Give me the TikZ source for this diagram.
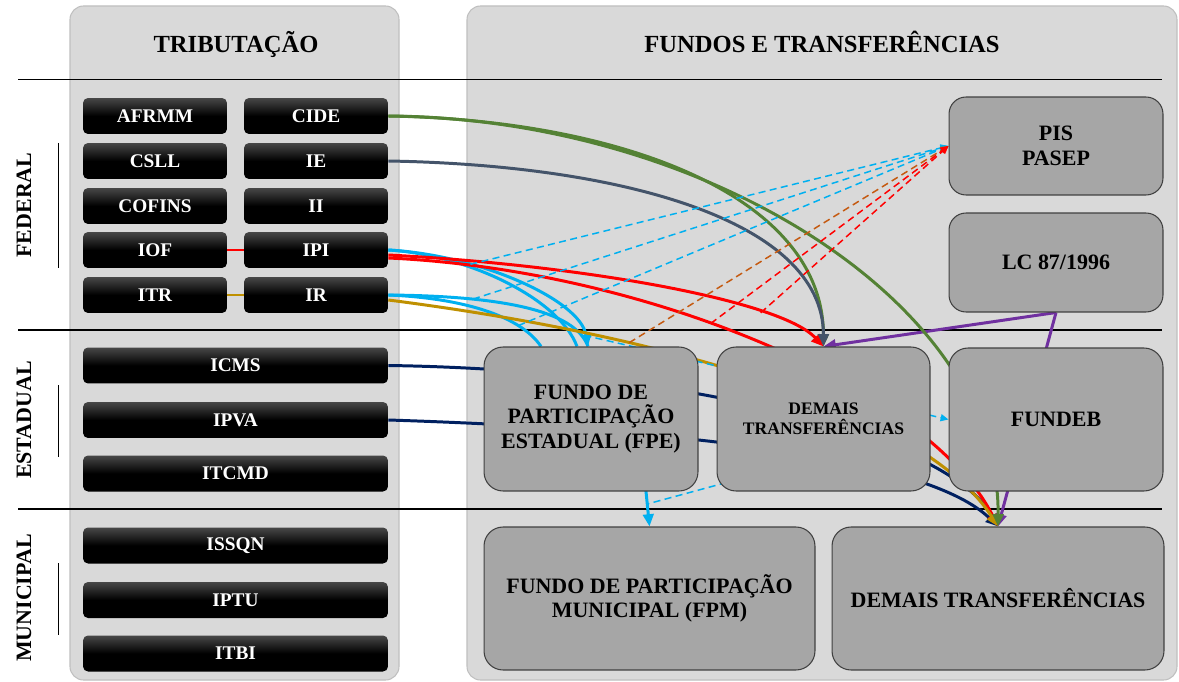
\documentclass[tikz,border=0pt]{standalone}
\usepackage{fontspec}
\setmainfont{Liberation Serif}
\usetikzlibrary{arrows.meta}

\definecolor{panelfill}{HTML}{D9D9D9}
\definecolor{paneledge}{HTML}{BFBFBF}
\definecolor{fundfill}{HTML}{A6A6A6}
\definecolor{fundedge}{HTML}{404040}
\definecolor{cideg}{HTML}{548235}
\definecolor{ieslate}{HTML}{44546A}
\definecolor{ipired}{HTML}{FF0000}
\definecolor{ipicyan}{HTML}{00B0F0}
\definecolor{irgold}{HTML}{BF9000}
\definecolor{icmsnavy}{HTML}{002060}
\definecolor{lcpurple}{HTML}{7030A0}
\definecolor{pisorange}{HTML}{C55A11}

\pgfdeclarelayer{back}
\pgfdeclarelayer{links}
\pgfsetlayers{back,links,main}

\begin{document}
\begin{tikzpicture}[x=0.02cm,y=-0.02cm,
  panel/.style={fill=panelfill,draw=paneledge,line width=0.6pt,rounded corners=0.27cm},
  band/.style={line width=1.1pt},
  tax/.style={rounded corners=0.1cm,top color=black!72,bottom color=black,middle color=black,
    text=white,font=\fontsize{11}{13}\selectfont\bfseries,minimum width=2.88cm,minimum height=0.72cm,inner sep=0pt},
  widetax/.style={tax,minimum width=6.1cm},
  fund/.style={fill=fundfill,draw=fundedge,line width=0.6pt,rounded corners=0.38cm,align=center,
    minimum width=4.28cm,minimum height=2.88cm,inner sep=0pt,font=\fontsize{12.5}{14}\selectfont\bfseries},
  level/.style={rotate=90,font=\fontsize{12.5}{14}\selectfont\bfseries},
  head/.style={font=\fontsize{14}{16}\selectfont\bfseries,anchor=base},
  flow/.style={line width=1.7pt},
  part/.style={line width=0.85pt,dash pattern=on 4pt off 2.5pt,-{Triangle[length=4.5pt,width=4pt]}},
  tip/.style={-{Triangle[length=7pt,width=6pt]}}
]
\useasboundingbox (0,0) rectangle (1179,682);

\begin{pgfonlayer}{back}
\draw[panel] (70,6) rectangle (399,680);
\draw[panel] (467,6) rectangle (1177,680);
\draw[band] (18,79.5) -- (1162,79.5);
\draw[band] (18,330) -- (1162,330);
\draw[band] (18,509) -- (1162,509);
\draw (58,143) -- (58,268);
\draw (58,385) -- (58,457);
\draw (58,563) -- (58,635);
\end{pgfonlayer}

\node[head] (trib) at (236,53) {TRIBUTAÇÃO};
\node[head] (fundos) at (822,53) {FUNDOS E TRANSFERÊNCIAS};
\node[level] (fed) at (24,205) {FEDERAL};
\node[level] (est) at (24,420) {ESTADUAL};
\node[level] (mun) at (24,598) {MUNICIPAL};

\node[tax] (afrmm) at (155,116) {AFRMM};
\node[tax] (cide) at (316,116) {CIDE};
\node[tax] (csll) at (155,161) {CSLL};
\node[tax] (ie) at (316,161) {IE};
\node[tax] (cofins) at (155,206) {COFINS};
\node[tax] (ii) at (316,206) {II};
\node[tax] (iof) at (155,250) {IOF};
\node[tax] (ipi) at (316,250) {IPI};
\node[tax] (itr) at (155,295) {ITR};
\node[tax] (ir) at (316,295) {IR};

\node[widetax] (icms) at (235.5,365.5) {ICMS};
\node[widetax] (ipva) at (235.5,420) {IPVA};
\node[widetax] (itcmd) at (235.5,473.5) {ITCMD};
\node[widetax] (issqn) at (235.5,545.5) {ISSQN};
\node[widetax] (iptu) at (235.5,600) {IPTU};
\node[widetax] (itbi) at (235.5,653.5) {ITBI};

\node[fund,minimum height=1.96cm,rounded corners=0.34cm] (pis) at (1056,146) {PIS\\PASEP};
\node[fund,minimum height=1.98cm,rounded corners=0.34cm] (lc) at (1056,262.5) {LC 87/1996};
\node[fund,minimum height=2.86cm] (fundeb) at (1056,419.5) {FUNDEB};
\node[fund] (fpe) at (591,419) {FUNDO DE\\PARTICIPAÇÃO\\ESTADUAL (FPE)};
\node[fund,minimum width=4.26cm,font=\fontsize{10}{11.3}\selectfont\bfseries] (demais) at (823.5,419) {DEMAIS\\TRANSFERÊNCIAS};
\node[fund,minimum width=6.62cm,minimum height=2.86cm] (fpm) at (649.5,598.5) {FUNDO DE PARTICIPAÇÃO\\MUNICIPAL (FPM)};
\node[fund,minimum width=6.64cm,minimum height=2.86cm] (outras) at (998,598.5) {DEMAIS TRANSFERÊNCIAS};

\begin{pgfonlayer}{links}
\draw[flow,ipired] (iof.east) -- (ipi.west);
\draw[flow,irgold] (itr.east) -- (ir.west);

\draw[flow,icmsnavy,tip] (icms.east) .. controls (700,370) and (950,440) .. (outras.north);
\draw[flow,icmsnavy,tip] (ipva.east) .. controls (700,430) and (930,460) .. (outras.north);

\draw[flow,ipicyan,tip] (ipi.east) .. controls (480,255) and (580,300) .. ([xshift=-0.06cm]fpe.north) coordinate[pos=0.3] (cy1) coordinate[pos=0.92] (cy4);
\draw[flow,ipicyan] (ipi.east) .. controls (470,255) and (560,300) .. ([xshift=-0.28cm]fpe.north);
\draw[flow,ipicyan] (ir.east) .. controls (500,296) and (575,310) .. ([xshift=-0.06cm]fpe.north) coordinate[pos=0.28] (cy2);
\draw[flow,ipicyan] (ir.east) .. controls (460,298) and (520,315) .. ([xshift=-1cm]fpe.north) coordinate[pos=0.75] (cy3);

\draw[flow,ipired,tip] ([yshift=-0.16cm]ipi.east) .. controls (650,270) and (930,390) .. (outras.north) coordinate[pos=0.42] (rd1);
\draw[flow,irgold,tip] ([yshift=-0.1cm]ir.east) .. controls (700,340) and (930,420) .. (outras.north) coordinate[pos=0.28] (au1);
\draw[flow,lcpurple,tip] (lc.south) -- (outras.north);
\draw[flow,lcpurple,tip] (lc.south) -- (demais.north);
\draw[flow,cideg,tip] (cide.east) .. controls (620,120) and (823,195) .. (demais.north);
\draw[flow,ipired,tip] ([yshift=-0.1cm]ipi.east) .. controls (580,265) and (780,300) .. (demais.north) coordinate[pos=0.74] (rd2);
\draw[flow,ieslate,tip] (ie.east) .. controls (620,165) and (823,220) .. (demais.north);
\draw[flow,cideg,tip] (cide.east) .. controls (700,118) and (1000,300) .. (outras.north);

\draw[part,ipicyan] (cy1) -- (pis.west);
\draw[part,ipicyan] (cy2) -- (pis.west);
\draw[part,ipicyan] (cy3) -- (pis.west);
\draw[part,pisorange] (au1) -- (pis.west);
\draw[part,ipired] (rd1) -- (pis.west);
\draw[part,ipired] (rd2) -- (pis.west);
\draw[part,ipicyan] (cy4) -- (fundeb.west);

\draw[flow,ipicyan,tip] ([xshift=1.08cm,yshift=0.2cm]fpe.south) -- (fpm.north) coordinate[pos=0.5] (cy5);
\draw[part,ipicyan,-] ([xshift=-1.5cm,yshift=0.3cm]demais.south) -- (cy5);
\end{pgfonlayer}
\end{tikzpicture}
\end{document}
